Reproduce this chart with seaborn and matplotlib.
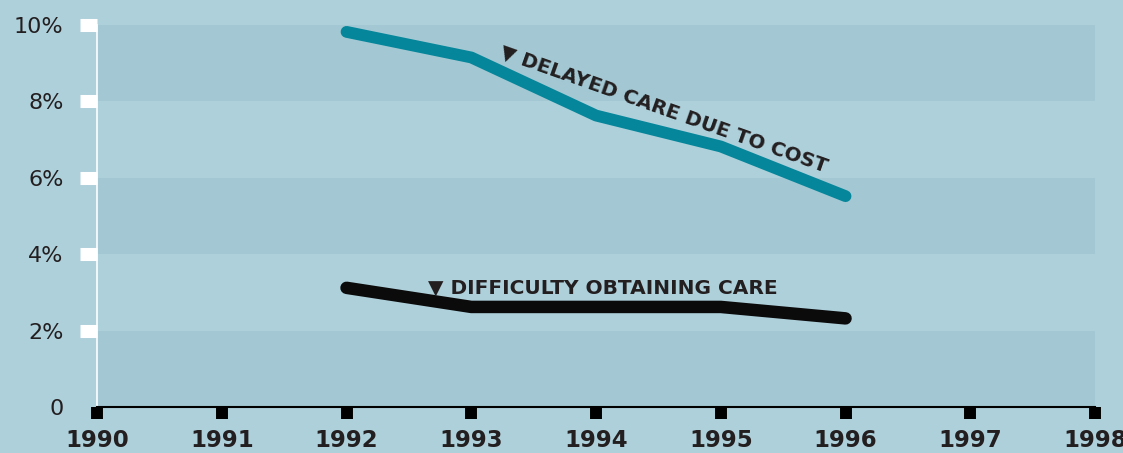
import matplotlib
matplotlib.use("Agg")
import matplotlib.pyplot as plt
import seaborn as sns
import pandas as pd

# Values (percent)
years = [1992, 1993, 1994, 1995, 1996]
delayed_care = [9.82, 9.15, 7.63, 6.82, 5.52]
difficulty_care = [3.12, 2.62, 2.62, 2.62, 2.32]

year_ticks = list(range(1990, 1999))
pct_ticks = [0, 2, 4, 6, 8, 10]
pct_labels = ['0', '2%', '4%', '6%', '8%', '10%']
dark_bands = [(0, 2), (4, 6), (8, 10)]

bg = '#aed0db'
band = '#a3c8d3'
teal = '#05869a'
ink = '#231f20'

df = pd.DataFrame({'year': years, 'delayed': delayed_care, 'difficulty': difficulty_care})

sns.set_style('ticks')
plt.rcParams['font.family'] = ['DejaVu Sans']

fig = plt.figure(figsize=(11.23, 4.53), dpi=100, facecolor=bg)
ax = fig.add_axes([0.0864, 0.1015, 0.8887, 0.8433])
ax.set_facecolor(bg)

# alternating horizontal bands
for lo, hi in dark_bands:
    ax.axhspan(lo, hi, color=band, lw=0, zorder=0)

sns.lineplot(data=df, x='year', y='delayed', color=teal, linewidth=8.5,
             solid_capstyle='round', solid_joinstyle='round', ax=ax, zorder=3, clip_on=False)
sns.lineplot(data=df, x='year', y='difficulty', color='#0b0b0b', linewidth=9,
             solid_capstyle='round', solid_joinstyle='round', ax=ax, zorder=3, clip_on=False)

ax.set_xlim(1990, 1998)
ax.set_ylim(0, 10)
ax.set_xlabel('')
ax.set_ylabel('')

ax.set_yticks(pct_ticks)
ax.set_yticklabels(pct_labels, fontsize=16, color=ink)
ax.set_xticks(year_ticks)
ax.set_xticklabels([str(y) for y in year_ticks], fontsize=16.5, fontweight='bold', color=ink)

ax.tick_params(axis='y', direction='out', length=12.2, width=9.4, color='white', pad=12)
ax.tick_params(axis='x', direction='out', length=8.6, width=8.6, color='black', pad=7)

# no white tick at zero, only the black square
ax.yaxis.get_major_ticks()[0].tick1line.set_visible(False)

ax.spines['top'].set_visible(False)
ax.spines['right'].set_visible(False)
ax.spines['left'].set_color('white')
ax.spines['left'].set_linewidth(1.2)
ax.spines['bottom'].set_color('black')
ax.spines['bottom'].set_linewidth(1.5)

# line labels
ax.text(1993.22, 9.16, '\u25bc DELAYED CARE DUE TO COST', rotation=-19.5,
        rotation_mode='anchor', ha='left', va='baseline', fontsize=14.3,
        fontweight='bold', color=ink, zorder=4)
ax.text(1992.65, 2.98, '\u25bc DIFFICULTY OBTAINING CARE', ha='left', va='baseline',
        fontsize=14.5, fontweight='bold', color=ink, zorder=4)

fig.savefig('out.png', dpi=100, facecolor=bg)
